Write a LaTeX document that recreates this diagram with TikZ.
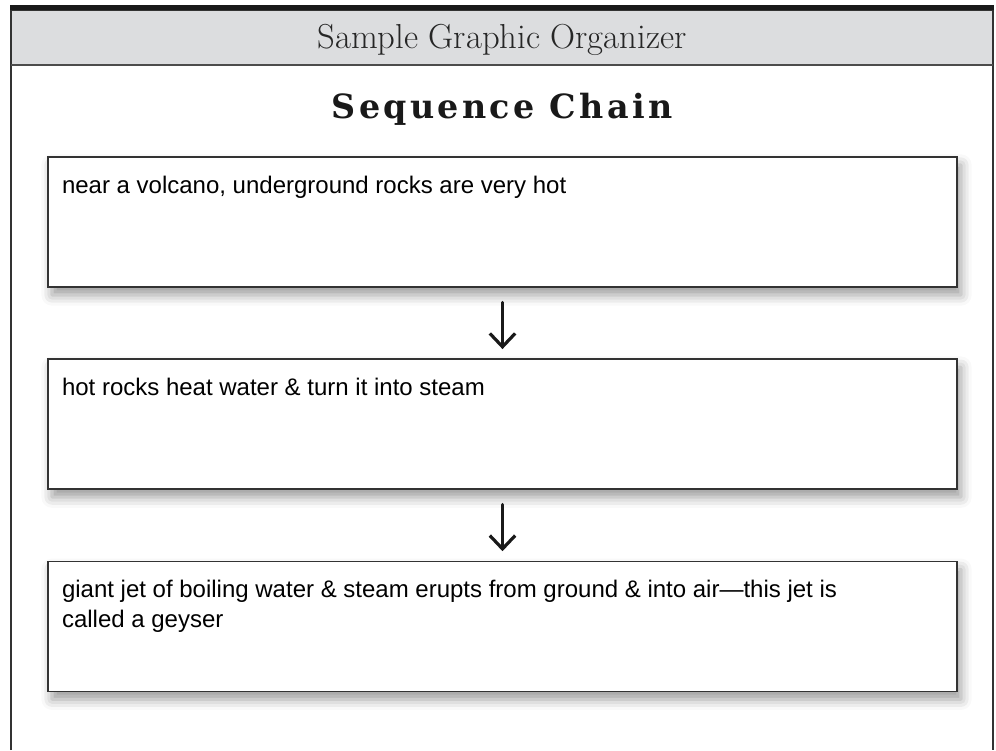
\documentclass[tikz,border=0pt]{standalone}
\usepackage{fontspec}
\newfontfamily\boxfont{Liberation Sans}
\newfontfamily\titlefont[LetterSpace=10]{DejaVu Serif}
\usetikzlibrary{positioning,arrows.meta,shadows.blur}
\definecolor{headgray}{HTML}{DCDDDF}
\definecolor{inkgray}{HTML}{333333}
\tikzset{chainbox/.style={draw=inkgray, line width=1.1pt, fill=white,
                          minimum width=681.75pt, minimum height=97.5pt,
                          inner xsep=10.5pt, inner ysep=0pt,
                          blur shadow={shadow xshift=3pt, shadow yshift=-6pt,
                                       shadow blur radius=8pt, shadow opacity=40},
                          font=\boxfont\fontsize{18}{22.5}\selectfont}}
\tikzset{chainarrow/.style={draw=black!90, line width=2.4pt, line cap=round, line join=round,
                            -{Straight Barb[length=10pt,width=19pt]},
                            shorten <=11pt, shorten >=7pt}}
\newcommand{\boxcontent}[1]{\parbox[c][97.5pt][t]{660.75pt}{\raggedright\vspace*{14pt}#1}}

\begin{document}
\begin{tikzpicture}[x=0.75pt,y=-0.75pt]
        \useasboundingbox (0,0) rectangle (996,750);
        %
        % frame and header band
        \fill[headgray] (11,10) rectangle (993,65);
        \draw[inkgray,line width=1.1pt] (11,750) -- (11,10) -- (993,10) -- (993,750);
        \draw[black!70,line width=1.2pt] (11,65) -- (993,65);
        \fill[black!90] (10,5) rectangle (994,10);
        \node[anchor=base,font=\fontsize{26}{30}\selectfont,text=black!85] (head) at (502,48) {Sample Graphic Organizer};
        \node[anchor=base,font=\titlefont\bfseries\fontsize{25}{30}\selectfont,text=black!90] (title) at (502,118) {Sequence Chain};
        %
        % the chain
        \node[chainbox] (step1) at (502.5,222) {\boxcontent{near a volcano, underground rocks are very hot}};
        \node[chainbox,below=53pt of step1] (step2) {\boxcontent{hot rocks heat water \& turn it into steam}};
        \node[chainbox,below=53pt of step2] (step3) {\boxcontent{giant jet of boiling water \& steam erupts from ground \& into air—this jet is\\ called a geyser}};
        \foreach \X/\Y in {1/2,2/3}
            {\draw[chainarrow] (step\X) -- (step\Y);}
    \end{tikzpicture}
\end{document}
